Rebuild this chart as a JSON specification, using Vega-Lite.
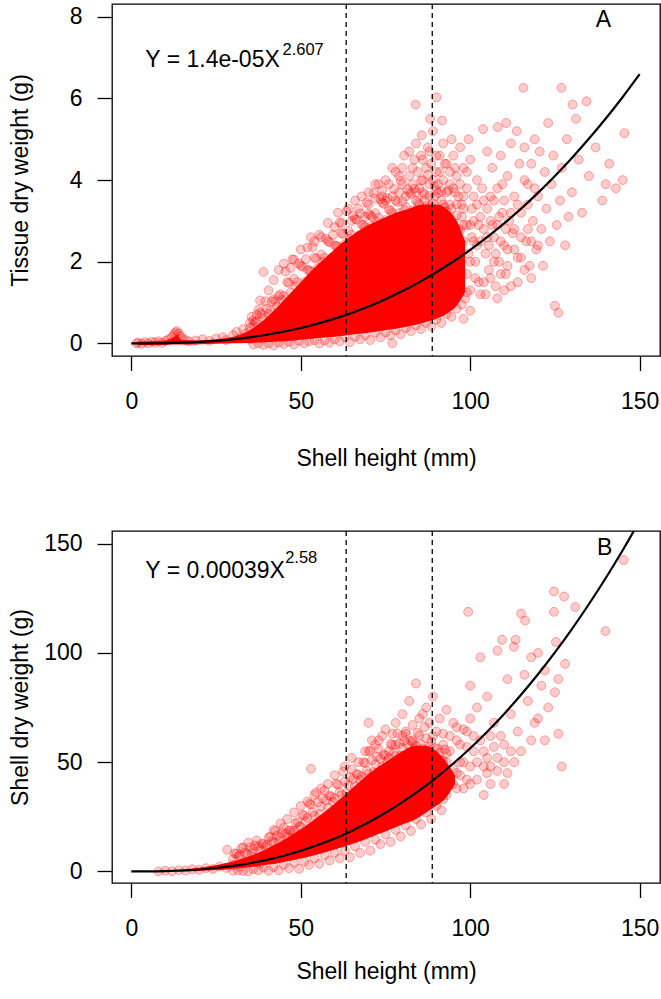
{
  "$schema": "https://vega.github.io/schema/vega-lite/v6.json",
  "padding": {"left": 8, "top": 2, "right": 1, "bottom": 0},
  "spacing": 58,
  "background": "white",
  "config": {
    "font": "Liberation Sans",
    "view": {"stroke": "#000000", "strokeWidth": 1.3},
    "axis": {"domain": false, "grid": false, "tickColor": "#000000", "tickWidth": 1.3, "labelColor": "#000000", "labelFontSize": 23, "titleFontSize": 23, "titleFontWeight": "normal", "titleColor": "#000000", "labelFont": "Liberation Sans", "titleFont": "Liberation Sans", "labelFlush": false, "labelOverlap": false},
    "axisX": {"tickSize": 14.5, "labelPadding": 37.5, "labelBaseline": "alphabetic", "titleY": 109, "titleBaseline": "alphabetic"},
    "axisY": {"tickSize": 15, "labelPadding": 15, "titleX": -92, "titleBaseline": "middle"}
  },
  "datasets": {
    "cuts": [{"h": 63.4}, {"h": 88.8}],
    "aCore": [
      {"h":2,"lo":-0.04,"hi":0.04},{"h":5,"lo":-0.04,"hi":0.05},{"h":10,"lo":-0.04,"hi":0.07},{"h":12,"lo":-0.03,"hi":0.13},{"h":13.5,"lo":-0.03,"hi":0.2},{"h":15,"lo":-0.03,"hi":0.08},{"h":20,"lo":-0.02,"hi":0.07},{"h":25,"lo":-0.01,"hi":0.1},{"h":30,"lo":0.0,"hi":0.16},{"h":34,"lo":0.01,"hi":0.28},{"h":38,"lo":0.02,"hi":0.5},{"h":42,"lo":0.04,"hi":0.8},{"h":46,"lo":0.06,"hi":1.15},{"h":50,"lo":0.09,"hi":1.5},{"h":54,"lo":0.12,"hi":1.85},{"h":58,"lo":0.15,"hi":2.15},{"h":62,"lo":0.18,"hi":2.45},{"h":66,"lo":0.22,"hi":2.7},{"h":70,"lo":0.26,"hi":2.9},{"h":74,"lo":0.31,"hi":3.05},{"h":78,"lo":0.36,"hi":3.2},{"h":82,"lo":0.42,"hi":3.3},{"h":86,"lo":0.5,"hi":3.4},{"h":90,"lo":0.6,"hi":3.4},{"h":93,"lo":0.72,"hi":3.3},{"h":96,"lo":0.92,"hi":3.0},{"h":98.5,"lo":1.25,"hi":2.5}
    ],
    "aFit": [
      {"h":0,"w":0},{"h":5,"w":0.0009},{"h":10,"w":0.0057},{"h":15,"w":0.0163},{"h":20,"w":0.0345},{"h":25,"w":0.0617},{"h":30,"w":0.0993},{"h":35,"w":0.1484},{"h":40,"w":0.2102},{"h":45,"w":0.2858},{"h":50,"w":0.3758},{"h":55,"w":0.4824},{"h":60,"w":0.605},{"h":65,"w":0.7455},{"h":70,"w":0.9043},{"h":75,"w":1.0825},{"h":80,"w":1.281},{"h":85,"w":1.5001},{"h":90,"w":1.7412},{"h":95,"w":2.0047},{"h":100,"w":2.2916},{"h":105,"w":2.6024},{"h":110,"w":2.9381},{"h":115,"w":3.299},{"h":120,"w":3.6861},{"h":125,"w":4.0997},{"h":130,"w":4.5415},{"h":135,"w":5.0111},{"h":140,"w":5.5095},{"h":145,"w":6.0372},{"h":150,"w":6.5955}
    ],
    "aPts": [
      {"h":1.5,"w":0.0},{"h":2,"w":0.02},{"h":3,"w":-0.01},{"h":4,"w":0.03},{"h":5,"w":0.0},{"h":6,"w":0.04},{"h":7,"w":0.02},{"h":8,"w":0.05},{"h":9,"w":0.01},{"h":10,"w":0.06},{"h":11,"w":0.1},{"h":12,"w":0.15},{"h":12.5,"w":0.22},{"h":13,"w":0.27},{"h":13.5,"w":0.3},{"h":14,"w":0.24},{"h":14.5,"w":0.18},{"h":15,"w":0.12},{"h":16,"w":0.08},{"h":17,"w":0.05},{"h":19,"w":0.07},{"h":21,"w":0.1},{"h":23,"w":0.06},{"h":25,"w":0.12},{"h":27,"w":0.15},{"h":28,"w":0.08},{"h":30,"w":0.2},{"h":31,"w":0.28},{"h":32,"w":0.14},{"h":33,"w":0.35},{"h":34,"w":0.25},{"h":35,"w":0.5},{"h":35,"w":0.1},{"h":36,"w":0.42},{"h":37,"w":0.7},
      {"h":38,"w":1.05},{"h":39,"w":1.75},{"h":40.5,"w":1.3},{"h":42,"w":1.55},{"h":43.5,"w":1.8},{"h":45,"w":1.95},{"h":47,"w":1.85},{"h":48,"w":2.05},{"h":50,"w":2.3},{"h":52,"w":2.35},{"h":53,"w":2.6},{"h":54,"w":2.5},{"h":56,"w":2.6},{"h":58,"w":2.95},{"h":60,"w":2.85},{"h":61,"w":3.2},{"h":62,"w":2.95},
      {"h":64,"w":3.3},{"h":66,"w":3.5},{"h":68,"w":3.6},{"h":70,"w":3.7},{"h":72,"w":3.9},{"h":74,"w":3.75},{"h":75,"w":4.0},{"h":77,"w":4.3},{"h":79,"w":4.1},{"h":80.5,"w":4.6},{"h":82,"w":4.7},{"h":83,"w":4.3},{"h":83.9,"w":5.85},{"h":84,"w":4.9},{"h":85.7,"w":5.1},{"h":86,"w":4.5},{"h":87.5,"w":4.8},{"h":88.2,"w":5.5},{"h":88.5,"w":4.4},{"h":89,"w":5.2},{"h":90.1,"w":6.03},{"h":90,"w":4.6},{"h":91,"w":4.2},{"h":91.7,"w":5.46},{"h":92,"w":4.9},{"h":93,"w":4.4},{"h":94,"w":3.9},{"h":94.5,"w":5.0},{"h":95,"w":4.6},{"h":96,"w":4.1},{"h":96.5,"w":3.6},{"h":97,"w":4.8},{"h":98,"w":4.3},{"h":99,"w":3.8},{"h":99.5,"w":5.0},
      {"h":100,"w":4.5},{"h":100.5,"w":3.3},{"h":101,"w":2.5},{"h":101.5,"w":1.6},{"h":102,"w":4.0},{"h":102.5,"w":2.9},{"h":103,"w":1.2},{"h":103.8,"w":5.25},{"h":104,"w":3.5},{"h":104.5,"w":2.2},{"h":105,"w":4.7},{"h":105.5,"w":1.8},{"h":106,"w":3.0},{"h":106.5,"w":4.3},{"h":107,"w":2.6},{"h":107.5,"w":1.4},{"h":108.1,"w":5.3},{"h":108,"w":3.8},{"h":108.5,"w":2.0},{"h":109,"w":4.6},{"h":109.5,"w":3.2},{"h":110,"w":2.4},{"h":110.6,"w":5.4},{"h":110.5,"w":1.7},{"h":111,"w":4.1},{"h":111.5,"w":3.0},{"h":112,"w":4.9},{"h":112.5,"w":2.7},{"h":113,"w":3.6},{"h":113.7,"w":5.2},{"h":114,"w":2.1},{"h":114.5,"w":4.4},{"h":115,"w":3.2},{"h":115.7,"w":6.26},{"h":116,"w":4.8},{"h":116.5,"w":2.5},{"h":117,"w":3.9},{"h":117.5,"w":1.9},{"h":118,"w":4.4},{"h":118.5,"w":3.0},{"h":119,"w":5.0},{"h":119.5,"w":2.3},{"h":120,"w":3.6},{"h":120.5,"w":4.7},{"h":121,"w":2.8},{"h":121.5,"w":1.9},{"h":122,"w":4.2},{"h":122.5,"w":3.3},{"h":123,"w":5.4},{"h":123.5,"w":2.5},{"h":124,"w":3.9},{"h":124.5,"w":4.6},{"h":125,"w":0.92},{"h":125.5,"w":2.9},{"h":126,"w":0.75},{"h":126.5,"w":3.5},{"h":126.9,"w":6.26},{"h":127,"w":4.3},{"h":128,"w":2.4},{"h":128.5,"w":5.0},{"h":129,"w":3.1},{"h":130.2,"w":5.85},{"h":130,"w":3.7},{"h":131.2,"w":5.5},{"h":132,"w":4.5},{"h":133,"w":3.2},{"h":134.3,"w":5.93},{"h":135,"w":4.1},{"h":137,"w":4.8},{"h":139,"w":3.5},{"h":140,"w":3.9},{"h":141,"w":4.4},{"h":143,"w":3.8},{"h":145,"w":4.0},{"h":145.5,"w":5.15},
      {"h":96,"w":1.5},{"h":97,"w":2.0},{"h":98,"w":3.3},{"h":99,"w":1.7},{"h":100,"w":2.9},{"h":100,"w":2.0},{"h":101,"w":3.6},{"h":102,"w":2.4},{"h":103,"w":3.1},{"h":104,"w":1.5},{"h":105,"w":2.6},{"h":106,"w":3.6},{"h":107,"w":2.0},{"h":108,"w":2.9},{"h":109,"w":1.7},{"h":110,"w":3.5},{"h":111,"w":2.3},{"h":112,"w":1.4},{"h":113,"w":2.8},{"h":114,"w":3.4},{"h":115,"w":2.1},{"h":116,"w":4.0},{"h":117,"w":2.8},{"h":118,"w":1.6},
      {"h":35,"w":0.38},{"h":36,"w":0.56},{"h":37,"w":0.54},{"h":38,"w":0.75},{"h":39,"w":0.62},{"h":40,"w":0.85},{"h":41,"w":0.81},{"h":42,"w":1.08},{"h":43,"w":0.9},{"h":44,"w":1.2},{"h":45,"w":1.16},{"h":46,"w":1.5},{"h":47,"w":1.24},{"h":48,"w":1.58},{"h":49,"w":1.5},{"h":50,"w":1.9},{"h":51,"w":1.5},{"h":52,"w":1.8},{"h":53,"w":1.76},{"h":54,"w":2.1},{"h":55,"w":1.84},{"h":56,"w":2.18},{"h":57,"w":2.1},{"h":58,"w":2.5},{"h":59,"w":2.1},{"h":60,"w":2.4},{"h":61,"w":2.36},{"h":62,"w":2.7},{"h":63,"w":2.43},{"h":64,"w":2.76},{"h":65,"w":2.66},{"h":66,"w":3.05},{"h":67,"w":2.64},{"h":68,"w":2.91},{"h":69,"w":2.85},{"h":70,"w":3.17},{"h":71,"w":2.88},{"h":72,"w":3.19},{"h":73,"w":3.08},{"h":74,"w":3.45},{"h":75,"w":3.02},{"h":76,"w":3.28},{"h":77,"w":3.19},{"h":78,"w":3.5},{"h":79,"w":3.19},{"h":80,"w":3.48},{"h":81,"w":3.34},{"h":82,"w":3.7},{"h":83,"w":3.26},{"h":84,"w":3.5},{"h":85,"w":3.41},{"h":86,"w":3.7},{"h":87,"w":3.36},{"h":88,"w":3.61},{"h":89,"w":3.43},{"h":90,"w":3.75},{"h":91,"w":3.23},{"h":92,"w":3.4},{"h":93,"w":3.23},{"h":94,"w":3.4},{"h":95,"w":2.97},{"h":96,"w":3.13},{"h":97,"w":2.77},{"h":98,"w":2.9},
      {"h":35.5,"w":0.65},{"h":36.5,"w":0.52},{"h":37.5,"w":0.82},{"h":38.5,"w":0.71},{"h":39.5,"w":1.03},{"h":40.5,"w":0.72},{"h":41.5,"w":1.03},{"h":42.5,"w":1.03},{"h":43.5,"w":1.16},{"h":44.5,"w":1.06},{"h":45.5,"w":1.76},{"h":46.5,"w":1.48},{"h":47.5,"w":2.06},{"h":48.5,"w":1.39},{"h":49.5,"w":1.96},{"h":50.5,"w":1.88},{"h":51.5,"w":2.06},{"h":52.5,"w":1.79},{"h":53.5,"w":2.36},{"h":54.5,"w":2.08},{"h":55.5,"w":2.66},{"h":56.5,"w":1.99},{"h":57.5,"w":2.56},{"h":58.5,"w":2.48},{"h":59.5,"w":2.66},{"h":60.5,"w":2.39},{"h":61.5,"w":2.96},{"h":62.5,"w":2.68},{"h":63.5,"w":3.24},{"h":64.5,"w":2.56},{"h":65.5,"w":3.12},{"h":66.5,"w":3.03},{"h":67.5,"w":3.18},{"h":68.5,"w":2.89},{"h":69.5,"w":3.45},{"h":70.5,"w":3.14},{"h":71.5,"w":3.68},{"h":72.5,"w":2.98},{"h":73.5,"w":3.53},{"h":74.5,"w":3.42},{"h":75.5,"w":3.56},{"h":76.5,"w":3.25},{"h":77.5,"w":3.78},{"h":78.5,"w":3.46},{"h":79.5,"w":3.98},{"h":80.5,"w":3.26},{"h":81.5,"w":3.78},{"h":82.5,"w":3.66},{"h":83.5,"w":3.79},{"h":84.5,"w":3.46},{"h":85.5,"w":3.99},{"h":86.5,"w":3.65},{"h":87.5,"w":4.13},{"h":88.5,"w":3.37},{"h":89.5,"w":3.85},{"h":90.5,"w":3.68},{"h":91.5,"w":3.73},{"h":92.5,"w":3.33},{"h":93.5,"w":3.75},{"h":94.5,"w":3.3},{"h":95.5,"w":3.7},{"h":96.5,"w":2.8},{"h":97.5,"w":3.1},
      {"h":75,"w":3.5},{"h":76,"w":3.9},{"h":77,"w":3.6},{"h":78,"w":4.2},{"h":79,"w":3.7},{"h":80,"w":3.9},{"h":80,"w":4.3},{"h":81,"w":3.6},{"h":82,"w":4.1},{"h":83,"w":3.9},{"h":83.5,"w":4.5},{"h":84,"w":3.7},{"h":84.5,"w":4.2},{"h":85,"w":3.8},{"h":85.5,"w":4.6},{"h":86,"w":4.0},{"h":86.5,"w":3.5},{"h":87,"w":4.3},{"h":88,"w":3.9},{"h":88,"w":4.7},{"h":89,"w":4.0},{"h":89.5,"w":3.6},{"h":90,"w":4.2},{"h":90.5,"w":3.9},{"h":91,"w":4.6},{"h":91.5,"w":3.5},{"h":92,"w":4.0},{"h":92.5,"w":4.4},{"h":93,"w":3.7},{"h":94,"w":4.2},{"h":95,"w":3.8},{"h":95.5,"w":4.3},{"h":96,"w":3.4},{"h":97,"w":3.9},{"h":98,"w":3.6},{"h":99,"w":4.2},{"h":70,"w":3.4},{"h":71,"w":3.1},{"h":72,"w":3.55},{"h":73,"w":3.9},{"h":74,"w":3.6},{"h":65,"w":3.0},{"h":67,"w":3.3},{"h":69,"w":3.1},
      {"h":95,"w":1.2},{"h":96,"w":2.3},{"h":97,"w":1.4},{"h":97.5,"w":3.4},{"h":98,"w":2.5},{"h":98.5,"w":1.1},{"h":99,"w":2.9},{"h":99.5,"w":2.2},{"h":100,"w":1.3},{"h":100.5,"w":2.6},{"h":101,"w":3.0},{"h":101.5,"w":2.0},{"h":102,"w":3.4},{"h":102.5,"w":1.5},{"h":103,"w":2.5},{"h":103.5,"w":3.8},{"h":104,"w":2.8},{"h":104.5,"w":1.2},{"h":105,"w":3.3},{"h":105.5,"w":2.4},{"h":106,"w":1.6},{"h":106.5,"w":2.9},{"h":107,"w":3.5},{"h":107.5,"w":2.2},{"h":108,"w":1.1},{"h":108.5,"w":3.1},{"h":109,"w":2.5},{"h":109.5,"w":3.9},{"h":110,"w":1.3},{"h":110.5,"w":2.8},{"h":111,"w":1.9},{"h":112,"w":3.2},{"h":113,"w":2.3},{"h":114,"w":1.5},{"h":115,"w":2.6},{"h":116,"w":1.8},{"h":117,"w":3.4},{"h":118,"w":2.5},{"h":119,"w":3.8},{"h":120,"w":2.4},
      {"h":36,"w":-0.03},{"h":37.5,"w":0.0},{"h":39,"w":-0.04},{"h":40.5,"w":0.0},{"h":42,"w":-0.05},{"h":43.5,"w":0.02},{"h":45,"w":-0.02},{"h":46.5,"w":0.04},{"h":48,"w":-0.03},{"h":49.5,"w":0.06},{"h":51,"w":0.0},{"h":52.5,"w":0.05},{"h":54,"w":0.08},{"h":55.5,"w":0.0},{"h":57,"w":0.07},{"h":58.5,"w":0.02},{"h":60,"w":0.1},{"h":61.5,"w":0.05},{"h":63,"w":0.15},{"h":64.5,"w":0.03},{"h":66,"w":0.16},{"h":67.5,"w":0.1},{"h":69,"w":0.2},{"h":70.5,"w":0.08},{"h":72,"w":0.26},{"h":73.5,"w":0.15},{"h":75,"w":0.27},{"h":76.5,"w":0.2},{"h":77,"w":0.0},{"h":78,"w":0.32},{"h":79.5,"w":0.22},{"h":81,"w":0.38},{"h":82.5,"w":0.3},{"h":84,"w":0.44},{"h":85.5,"w":0.35},{"h":87,"w":0.5},{"h":88.5,"w":0.42},{"h":90,"w":0.58},{"h":91.5,"w":0.5},{"h":93,"w":0.72},{"h":94.5,"w":0.65},{"h":96,"w":0.85},{"h":97.5,"w":0.95},{"h":99,"w":1.25},{"h":100,"w":0.8},{"h":98,"w":0.6}
    ],
    "bCore": [
      {"h":8,"lo":-0.3,"hi":0.3},{"h":12,"lo":-0.2,"hi":0.6},{"h":16,"lo":0.0,"hi":1.0},{"h":20,"lo":0.2,"hi":1.7},{"h":24,"lo":0.5,"hi":2.6},{"h":28,"lo":0.9,"hi":3.8},{"h":32,"lo":1.4,"hi":5.5},{"h":36,"lo":2.1,"hi":7.6},{"h":40,"lo":3.0,"hi":10.4},{"h":44,"lo":4.0,"hi":13.6},{"h":48,"lo":5.2,"hi":17.3},{"h":52,"lo":6.6,"hi":21.5},{"h":56,"lo":8.2,"hi":26},{"h":60,"lo":10,"hi":31},{"h":64,"lo":12,"hi":36.5},{"h":68,"lo":14,"hi":42},{"h":72,"lo":16.5,"hi":47},{"h":76,"lo":19,"hi":51},{"h":80,"lo":21.5,"hi":55},{"h":84,"lo":24,"hi":57.5},{"h":87,"lo":27,"hi":57.5},{"h":90,"lo":30,"hi":55},{"h":93,"lo":34,"hi":50},{"h":95.5,"lo":40,"hi":44}
    ],
    "bFit": [
      {"h":0,"w":0},{"h":5,"w":0.0248},{"h":10,"w":0.1483},{"h":15,"w":0.4221},{"h":20,"w":0.8868},{"h":25,"w":1.5768},{"h":30,"w":2.5237},{"h":35,"w":3.7566},{"h":40,"w":5.3005},{"h":45,"w":7.1817},{"h":50,"w":9.431},{"h":55,"w":12.058},{"h":60,"w":15.09},{"h":65,"w":18.55},{"h":70,"w":22.46},{"h":75,"w":26.83},{"h":80,"w":31.7},{"h":85,"w":37.06},{"h":90,"w":42.95},{"h":95,"w":49.39},{"h":100,"w":56.37},{"h":105,"w":63.93},{"h":110,"w":72.09},{"h":115,"w":80.85},{"h":120,"w":90.23},{"h":125,"w":100.24},{"h":130,"w":110.92},{"h":135,"w":122.27},{"h":140,"w":134.3},{"h":145,"w":147.01},{"h":150,"w":160.46}
    ],
    "bPts": [
      {"h":8,"w":0.0},{"h":10,"w":0.3},{"h":12,"w":0.1},{"h":14,"w":0.6},{"h":16,"w":0.4},{"h":18,"w":1.0},{"h":20,"w":0.7},{"h":22,"w":1.5},{"h":24,"w":1.1},{"h":26,"w":2.2},{"h":28,"w":1.6},{"h":28.3,"w":9.9},{"h":30,"w":3.0},{"h":32,"w":2.2},{"h":34,"w":4.5},{"h":36,"w":6.5},{"h":38,"w":3.5},
      {"h":53,"w":47},{"h":69,"w":55},{"h":70,"w":68},{"h":71,"w":60},{"h":74,"w":62},{"h":75,"w":65},{"h":77,"w":63},{"h":78,"w":68},{"h":80,"w":72},{"h":81,"w":64},{"h":82,"w":78},{"h":83,"w":67},{"h":84,"w":86},{"h":85,"w":70},{"h":87,"w":75},{"h":89,"w":80},{"h":91,"w":70},{"h":92,"w":63},{"h":93,"w":74},{"h":94,"w":55},{"h":95,"w":68},{"h":96,"w":60},{"h":97,"w":50},{"h":98,"w":65},{"h":99,"w":57},{"h":100,"w":70},
      {"h":99.4,"w":118.8},{"h":100,"w":85},{"h":101,"w":62},{"h":102,"w":75},{"h":103,"w":98},{"h":104,"w":55},{"h":105,"w":80},{"h":106,"w":48},{"h":107,"w":68},{"h":108,"w":101},{"h":109.4,"w":106},{"h":110,"w":58},{"h":111,"w":88},{"h":112,"w":72},{"h":112.9,"w":102.8},{"h":113.4,"w":106},{"h":114,"w":64},{"h":115,"w":118},{"h":116.2,"w":114.8},{"h":116,"w":90},{"h":117,"w":78},{"h":118,"w":98},{"h":119,"w":68},{"h":120,"w":100},{"h":121,"w":85},{"h":122,"w":92},{"h":123,"w":75},{"h":124.7,"w":128.1},{"h":124.7,"w":118.8},{"h":125.3,"w":105},{"h":125,"w":82},{"h":126,"w":63},{"h":127,"w":48},{"h":127.7,"w":125.8},{"h":128,"w":95},{"h":131,"w":121},{"h":139.9,"w":110},{"h":145.3,"w":142.5},{"h":110,"w":40},{"h":105,"w":45},{"h":100,"w":40},{"h":115,"w":55},{"h":118,"w":60},{"h":108,"w":52},{"h":104,"w":35},{"h":96,"w":45},{"h":98,"w":38},{"h":102,"w":50},{"h":106,"w":62},{"h":113,"w":50},{"h":120,"w":70},{"h":122,"w":60},{"h":126,"w":88},
      {"h":30,"w":5.6},{"h":31,"w":8.0},{"h":32,"w":7.5},{"h":33,"w":11.0},{"h":34,"w":8.0},{"h":35,"w":11.0},{"h":36,"w":10.1},{"h":37,"w":14.2},{"h":38,"w":9.9},{"h":39,"w":12.5},{"h":40,"w":12.2},{"h":41,"w":15.9},{"h":42,"w":13.2},{"h":43,"w":16.4},{"h":44,"w":15.7},{"h":45,"w":20.0},{"h":46,"w":15.9},{"h":47,"w":18.7},{"h":48,"w":18.6},{"h":49,"w":22.6},{"h":50,"w":20.5},{"h":51,"w":25.5},{"h":52,"w":24.5},{"h":53,"w":30.6},{"h":54,"w":25.6},{"h":55,"w":31.7},{"h":56,"w":29.8},{"h":57,"w":37.0},{"h":58,"w":29.1},{"h":59,"w":34.3},{"h":60,"w":33.5},{"h":61,"w":39.7},{"h":62,"w":35.0},{"h":63,"w":41.2},{"h":64,"w":39.5},{"h":65,"w":46.7},{"h":66,"w":39.0},{"h":67,"w":44.2},{"h":68,"w":43.5},{"h":69,"w":49.6},{"h":70,"w":44.7},{"h":71,"w":50.9},{"h":72,"w":49.0},{"h":73,"w":56.0},{"h":74,"w":48.0},{"h":75,"w":53.0},{"h":76,"w":52.0},{"h":77,"w":57.9},{"h":78,"w":52.8},{"h":79,"w":58.6},{"h":80,"w":56.5},{"h":81,"w":63.0},{"h":82,"w":54.5},{"h":83,"w":59.0},{"h":84,"w":57.5},{"h":85,"w":62.3},{"h":86,"w":56.2},{"h":87,"w":61.0},{"h":88,"w":57.0},{"h":89,"w":62.0},{"h":90,"w":52.0},{"h":91,"w":54.3},{"h":92,"w":50.7},{"h":93,"w":54.0},
      {"h":30.5,"w":8.3},{"h":31.5,"w":6.7},{"h":32.5,"w":10.7},{"h":33.5,"w":8.7},{"h":34.5,"w":13.2},{"h":35.5,"w":8.3},{"h":36.5,"w":11.9},{"h":37.5,"w":11.5},{"h":38.5,"w":12.7},{"h":39.5,"w":11.3},{"h":40.5,"w":15.5},{"h":41.5,"w":13.8},{"h":42.5,"w":18.5},{"h":43.5,"w":13.8},{"h":44.5,"w":17.6},{"h":45.5,"w":17.4},{"h":46.5,"w":18.8},{"h":47.5,"w":17.6},{"h":48.5,"w":22.1},{"h":49.5,"w":20.5},{"h":50.5,"w":26},{"h":51.5,"w":23},{"h":52.5,"w":31},{"h":53.5,"w":27.1},{"h":54.5,"w":36.1},{"h":55.5,"w":26.2},{"h":56.5,"w":33.4},{"h":57.5,"w":32.5},{"h":58.5,"w":34.7},{"h":59.5,"w":31.9},{"h":60.5,"w":40.1},{"h":61.5,"w":36.3},{"h":62.5,"w":45.6},{"h":63.5,"w":35.8},{"h":64.5,"w":43.1},{"h":65.5,"w":42.3},{"h":66.5,"w":44.6},{"h":67.5,"w":41.8},{"h":68.5,"w":50},{"h":69.5,"w":46.1},{"h":70.5,"w":55.3},{"h":71.5,"w":45.4},{"h":72.5,"w":52.5},{"h":73.5,"w":51.5},{"h":74.5,"w":53.5},{"h":75.5,"w":50.5},{"h":76.5,"w":58.4},{"h":77.5,"w":54.3},{"h":78.5,"w":63.2},{"h":79.5,"w":53},{"h":80.5,"w":59.7},{"h":81.5,"w":58.2},{"h":82.5,"w":59.7},{"h":83.5,"w":56.2},{"h":84.5,"w":63.4},{"h":85.5,"w":58.2},{"h":86.5,"w":66.1},{"h":87.5,"w":54.5},{"h":88.5,"w":59.5},{"h":89.5,"w":56.5},{"h":90.5,"w":56.2},{"h":91.5,"w":50.5},{"h":92.5,"w":55.8},
      {"h":85,"w":45},{"h":86,"w":50},{"h":87,"w":40},{"h":88,"w":47},{"h":89,"w":42},{"h":90,"w":48},{"h":91,"w":38},{"h":92,"w":45},{"h":93,"w":50},{"h":94,"w":42},{"h":95,"w":47},{"h":96,"w":38},{"h":97,"w":44},{"h":98,"w":50},{"h":99,"w":42},{"h":100,"w":48},{"h":101,"w":55},{"h":102,"w":42},{"h":103,"w":60},{"h":104,"w":48},{"h":105,"w":52},{"h":106,"w":40},{"h":107,"w":57},{"h":108,"w":46},{"h":109,"w":62},{"h":110,"w":50},{"h":111,"w":45},{"h":112,"w":55},{"h":94,"w":62},{"h":96,"w":66},{"h":97,"w":58},{"h":99,"w":64},{"h":92,"w":58},{"h":90,"w":64},{"h":88,"w":68},{"h":86,"w":72},{"h":83,"w":60},{"h":80,"w":62},{"h":78,"w":58},{"h":76,"w":55},{"h":73,"w":60},{"h":72,"w":58},{"h":70,"w":55},{"h":67,"w":50},{"h":65,"w":52},{"h":63,"w":48},{"h":60,"w":44},{"h":58,"w":40},{"h":56,"w":38},{"h":54,"w":35},{"h":52,"w":32},{"h":50,"w":30},{"h":48,"w":27},{"h":46,"w":24},{"h":44,"w":22},{"h":42,"w":19},
      {"h":30,"w":0.3},{"h":31.5,"w":0.5},{"h":33,"w":0.2},{"h":34.5,"w":0.0},{"h":36,"w":1.0},{"h":37.5,"w":0.5},{"h":39,"w":1.8},{"h":40.5,"w":0.3},{"h":42,"w":2.0},{"h":43.5,"w":0.5},{"h":45,"w":3.0},{"h":46.5,"w":1.5},{"h":48,"w":4.0},{"h":49.5,"w":1.2},{"h":51,"w":4.5},{"h":52.5,"w":3.0},{"h":54,"w":6.0},{"h":55.5,"w":3.5},{"h":57,"w":7.5},{"h":58.5,"w":5.0},{"h":60,"w":8.5},{"h":61.5,"w":6.0},{"h":63,"w":9.5},{"h":64.5,"w":6.5},{"h":66,"w":11.5},{"h":67.5,"w":8.5},{"h":69,"w":13.5},{"h":70.5,"w":9.5},{"h":72,"w":14.5},{"h":73.5,"w":12.5},{"h":75,"w":17},{"h":76.5,"w":13.5},{"h":78,"w":19},{"h":79.5,"w":16},{"h":81,"w":21},{"h":82.5,"w":18.5},{"h":84,"w":24},{"h":85.5,"w":21.5},{"h":87,"w":27},{"h":88.5,"w":24},{"h":90,"w":30},{"h":91.5,"w":28},{"h":93,"w":35},{"h":95,"w":40},{"h":92,"w":33}
    ]
  },
  "vconcat": [
    {
      "width": 548,
      "height": 352,
      "layer": [
        {
          "data": {"name": "aCore"},
          "mark": {"type": "area", "color": "#ff0000", "opacity": 1, "clip": true, "interpolate": "monotone"},
          "encoding": {
            "x": {"field": "h", "type": "quantitative", "scale": {"domain": [-5.7, 156], "nice": false, "zero": false}, "axis": {"values": [0, 50, 100, 150], "title": "Shell height (mm)"}},
            "y": {"field": "lo", "type": "quantitative", "scale": {"domain": [-0.31, 8.315], "nice": false, "zero": false}, "axis": {"values": [0, 2, 4, 6, 8], "title": "Tissue dry weight (g)"}},
            "y2": {"field": "hi"}
          }
        },
        {
          "data": {"name": "aPts"},
          "mark": {"type": "circle", "size": 80, "fill": "#ff0000", "fillOpacity": 0.2, "stroke": "#ff0000", "strokeOpacity": 0.3, "strokeWidth": 1, "clip": true},
          "encoding": {
            "x": {"field": "h", "type": "quantitative"},
            "y": {"field": "w", "type": "quantitative"}
          }
        },
        {
          "data": {"name": "cuts"},
          "mark": {"type": "rule", "color": "#000000", "strokeWidth": 1.3, "strokeDash": [5, 4]},
          "encoding": {"x": {"field": "h", "type": "quantitative"}}
        },
        {
          "data": {"name": "aFit"},
          "mark": {"type": "line", "color": "#000000", "strokeWidth": 2.2, "interpolate": "monotone", "clip": true},
          "encoding": {
            "x": {"field": "h", "type": "quantitative"},
            "y": {"field": "w", "type": "quantitative"}
          }
        },
        {
          "data": {"values": [{"h": 4.13, "w": 6.76, "label": "Y = 1.4e-05X"}]},
          "mark": {"type": "text", "align": "left", "baseline": "alphabetic", "fontSize": 23, "color": "#000000", "font": "Liberation Sans"},
          "encoding": {"x": {"field": "h", "type": "quantitative"}, "y": {"field": "w", "type": "quantitative"}, "text": {"field": "label"}}
        },
        {
          "data": {"values": [{"h": 44.6, "w": 7.07, "label": "2.607"}]},
          "mark": {"type": "text", "align": "left", "baseline": "alphabetic", "fontSize": 16.5, "color": "#000000", "font": "Liberation Sans"},
          "encoding": {"x": {"field": "h", "type": "quantitative"}, "y": {"field": "w", "type": "quantitative"}, "text": {"field": "label"}}
        },
        {
          "data": {"values": [{"h": 139.3, "w": 7.76, "label": "A"}]},
          "mark": {"type": "text", "align": "center", "baseline": "alphabetic", "fontSize": 23, "color": "#000000", "font": "Liberation Sans"},
          "encoding": {"x": {"field": "h", "type": "quantitative"}, "y": {"field": "w", "type": "quantitative"}, "text": {"field": "label"}}
        }
      ]
    },
    {
      "width": 548,
      "height": 352,
      "layer": [
        {
          "data": {"name": "bCore"},
          "mark": {"type": "area", "color": "#ff0000", "opacity": 1, "clip": true, "interpolate": "monotone"},
          "encoding": {
            "x": {"field": "h", "type": "quantitative", "scale": {"domain": [-5.7, 156], "nice": false, "zero": false}, "axis": {"values": [0, 50, 100, 150], "title": "Shell height (mm)", "titleY": 95}},
            "y": {"field": "lo", "type": "quantitative", "scale": {"domain": [-5.3, 155.8], "nice": false, "zero": false}, "axis": {"values": [0, 50, 100, 150], "title": "Shell dry weight (g)"}},
            "y2": {"field": "hi"}
          }
        },
        {
          "data": {"name": "bPts"},
          "mark": {"type": "circle", "size": 80, "fill": "#ff0000", "fillOpacity": 0.2, "stroke": "#ff0000", "strokeOpacity": 0.3, "strokeWidth": 1, "clip": true},
          "encoding": {
            "x": {"field": "h", "type": "quantitative"},
            "y": {"field": "w", "type": "quantitative"}
          }
        },
        {
          "data": {"name": "cuts"},
          "mark": {"type": "rule", "color": "#000000", "strokeWidth": 1.3, "strokeDash": [5, 4]},
          "encoding": {"x": {"field": "h", "type": "quantitative"}}
        },
        {
          "data": {"name": "bFit"},
          "mark": {"type": "line", "color": "#000000", "strokeWidth": 2.2, "interpolate": "monotone", "clip": true},
          "encoding": {
            "x": {"field": "h", "type": "quantitative"},
            "y": {"field": "w", "type": "quantitative"}
          }
        },
        {
          "data": {"values": [{"h": 4.13, "w": 134.3, "label": "Y = 0.00039X"}]},
          "mark": {"type": "text", "align": "left", "baseline": "alphabetic", "fontSize": 23, "color": "#000000", "font": "Liberation Sans"},
          "encoding": {"x": {"field": "h", "type": "quantitative"}, "y": {"field": "w", "type": "quantitative"}, "text": {"field": "label"}}
        },
        {
          "data": {"values": [{"h": 45.4, "w": 141.2, "label": "2.58"}]},
          "mark": {"type": "text", "align": "left", "baseline": "alphabetic", "fontSize": 16.5, "color": "#000000", "font": "Liberation Sans"},
          "encoding": {"x": {"field": "h", "type": "quantitative"}, "y": {"field": "w", "type": "quantitative"}, "text": {"field": "label"}}
        },
        {
          "data": {"values": [{"h": 139.7, "w": 145.0, "label": "B"}]},
          "mark": {"type": "text", "align": "center", "baseline": "alphabetic", "fontSize": 23, "color": "#000000", "font": "Liberation Sans"},
          "encoding": {"x": {"field": "h", "type": "quantitative"}, "y": {"field": "w", "type": "quantitative"}, "text": {"field": "label"}}
        }
      ]
    }
  ]
}
